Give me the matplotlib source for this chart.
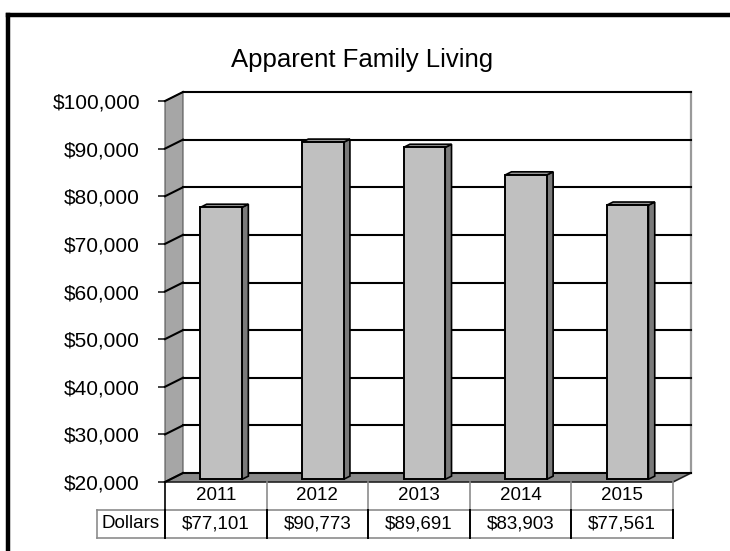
import matplotlib
matplotlib.use("Agg")
import matplotlib.pyplot as plt
from matplotlib.patches import Polygon
from matplotlib.lines import Line2D
from matplotlib.transforms import blended_transform_factory

plt.rcParams['font.family'] = ['Liberation Sans', 'DejaVu Sans']

# data
years = ['2011', '2012', '2013', '2014', '2015']
dollars = [77101, 90773, 89691, 83903, 77561]
y_ticks = [20000, 30000, 40000, 50000, 60000, 70000, 80000, 90000, 100000]
title = 'Apparent Family Living'
row_label = 'Dollars'

W, H = 730, 551
fig = plt.figure(figsize=(W / 100, H / 100), dpi=100)

# axes in pixels: front floor x 165..673, y 482 (20k) .. 101 (100k)
x0, x1, yb, yt = 165, 673, 482, 101
ax = fig.add_axes([x0 / W, (H - yb) / H, (x1 - x0) / W, (yb - yt) / H])
ymin, ymax = y_ticks[0], y_ticks[-1]
n = len(years)
ax.set_xlim(0, n)
ax.set_ylim(ymin, ymax)

# 3d depth offsets (18 px right, 9 px up)
cat_px = (x1 - x0) / n
DX = 18 / cat_px
DY = 9 * (ymax - ymin) / (yb - yt)

# left wall
ax.add_patch(Polygon([(0, ymin), (DX, ymin + DY), (DX, ymax + DY), (0, ymax)],
                     closed=True, fc='#a6a6a6', ec='#555555', lw=0.8, clip_on=False, zorder=1))
# floor
ax.add_patch(Polygon([(0, ymin), (n, ymin), (n + DX, ymin + DY), (DX, ymin + DY)],
                     closed=True, fc='#8a8a8a', ec='#222222', lw=1.2, clip_on=False, zorder=1))
# back wall right edge
ax.plot([n + DX, n + DX], [ymin + DY, ymax + DY], color='#9a9a9a', lw=1.6, clip_on=False, zorder=1)

# gridlines on back wall and left wall
for v in y_ticks:
    ax.plot([DX, n + DX], [v + DY, v + DY], color='black', lw=1.5, clip_on=False, zorder=2)
    ax.plot([0, DX], [v, v + DY], color='black', lw=1.5, clip_on=False, zorder=2)

# bars
f0, f1 = 0.3, 0.65
bw = 0.41
for i, v in enumerate(dollars):
    cx = i + 0.5 + f0 * DX
    l, r = cx - bw / 2, cx + bw / 2
    b, t = ymin + f0 * DY, v + f0 * DY
    ddx, ddy = (f1 - f0) * DX, (f1 - f0) * DY
    side = [(r, b), (r + ddx, b + ddy), (r + ddx, t + ddy), (r, t)]
    top = [(l, t), (r, t), (r + ddx, t + ddy), (l + ddx, t + ddy)]
    front = [(l, b), (r, b), (r, t), (l, t)]
    ax.add_patch(Polygon(side, closed=True, fc='#7a7a7a', ec='black', lw=1.2, clip_on=False, zorder=3))
    ax.add_patch(Polygon(top, closed=True, fc='#959595', ec='black', lw=1.2, clip_on=False, zorder=3))
    ax.add_patch(Polygon(front, closed=True, fc='#c0c0c0', ec='black', lw=1.4, clip_on=False, zorder=4))

ax.set_yticks(y_ticks)
ax.set_yticklabels(['${:,.0f}'.format(v) for v in y_ticks], fontsize=15)
ax.tick_params(axis='y', length=5, width=1.2, pad=13, color='#222222')
ax.set_xticks([])
for s in ax.spines.values():
    s.set_visible(False)
ax.patch.set_visible(False)

# data table under the floor
tr = blended_transform_factory(ax.transData, ax.transAxes)
rh = 28 / (yb - yt)
lab_l = (97 - x0) / cat_px
gray = '#8c8c8c'
ax.plot([0, n], [-rh, -rh], color=gray, lw=1.2, transform=tr, clip_on=False)
ax.plot([lab_l, 0], [-rh, -rh], color=gray, lw=1.2, transform=tr, clip_on=False)
ax.plot([lab_l, n], [-2 * rh, -2 * rh], color=gray, lw=1.2, transform=tr, clip_on=False)
ax.plot([lab_l, lab_l], [-rh, -2 * rh], color=gray, lw=1.2, transform=tr, clip_on=False)
for k in range(n + 1):
    c1 = 'black' if k == 0 else gray
    ax.plot([k, k], [0, -rh], color=c1, lw=1.2, transform=tr, clip_on=False)
    ax.plot([k, k], [-rh, -2 * rh], color='black', lw=1.4, transform=tr, clip_on=False)
for i, (yr, v) in enumerate(zip(years, dollars)):
    ax.text(i + 0.5, -0.5 * rh, yr, ha='center', va='center', fontsize=13.5, transform=tr)
    ax.text(i + 0.5, -1.5 * rh, '${:,.0f}'.format(v), ha='center', va='center', fontsize=13.5, transform=tr)
ax.text(lab_l / 2, -1.5 * rh, row_label, ha='center', va='center', fontsize=13.5, transform=tr)

fig.text(362 / W, (H - 60) / H, title, ha='center', va='center', fontsize=18.5)

# outer frame (left and top edges)
fig.add_artist(Line2D([8 / W, 8 / W], [0, (H - 15) / H], color='black', lw=3.2, transform=fig.transFigure))
fig.add_artist(Line2D([8 / W, 1], [(H - 15) / H, (H - 15) / H], color='black', lw=3.2, transform=fig.transFigure))

fig.savefig('out.png', dpi=100)
